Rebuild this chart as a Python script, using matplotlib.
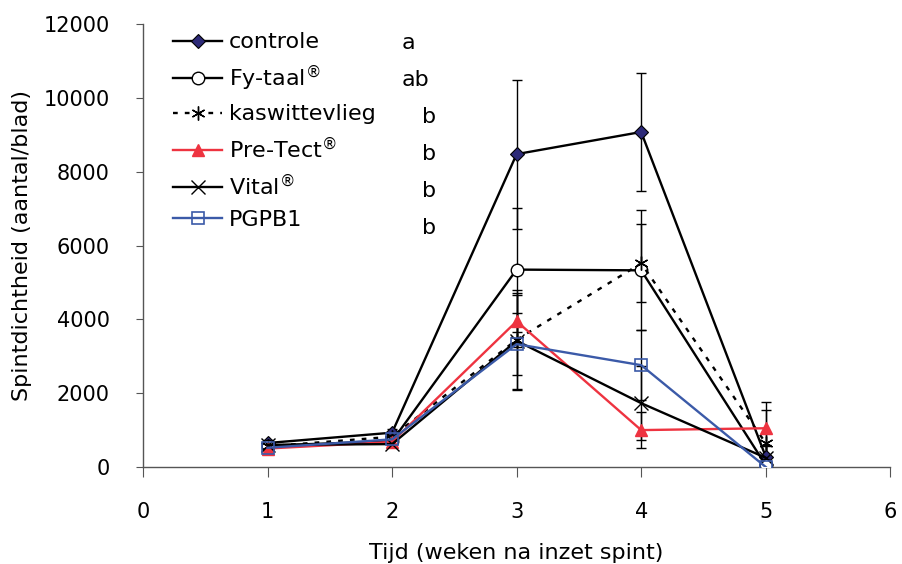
import numpy as np
import matplotlib.pyplot as plt

weeks = [1, 2, 3, 4, 5]
names = ['controle', 'Fy-taal$^{®}$', 'kaswittevlieg', 'Pre-Tect$^{®}$', 'Vital$^{®}$', 'PGPB1']
letters = ['a', 'ab', 'b', 'b', 'b', 'b']

controle = [650, 930, 8480, 9080, 280]
controle_err = [80, 100, 2020, 1600, 300]
fytaal = [580, 700, 5350, 5330, 50]
fytaal_err = [60, 80, 1680, 1630, 100]
kaswittevlieg = [560, 820, 3450, 5520, 650]
kaswittevlieg_err = [60, 80, 1350, 1060, 900]
pretect = [500, 680, 3950, 1000, 1050]
pretect_err = [50, 70, 700, 480, 720]
vital = [600, 620, 3420, 1730, 250]
vital_err = [60, 60, 1300, 1000, 350]
pgpb = [520, 750, 3330, 2760, 0]
pgpb_err = [50, 70, 850, 950, 100]

plt.rcParams['font.family'] = ['DejaVu Sans']
fig = plt.figure(figsize=(9.02, 5.64), dpi=100)
ax = fig.add_axes([0.1585, 0.172, 0.8285, 0.785])

series = [
    (controle, controle_err, dict(color='black', ls='-', marker='D', mfc='#2d2a78', mec='black', ms=7.5, mew=0.8)),
    (fytaal, fytaal_err, dict(color='black', ls='-', marker='o', mfc='white', mec='black', ms=9, mew=1)),
    (kaswittevlieg, kaswittevlieg_err, dict(color='black', ls=(0, (2, 3)), marker=(6, 2, 0), mec='black', ms=10, mew=1)),
    (pretect, pretect_err, dict(color='#ee3340', ls='-', marker='^', mfc='#ee3340', mec='#ee3340', ms=9)),
    (vital, vital_err, dict(color='black', ls='-', marker='x', mec='black', ms=10, mew=1)),
    (pgpb, pgpb_err, dict(color='#3b5aa8', ls='-', marker='s', mfc='none', mec='#3b5aa8', ms=9, mew=1.2)),
]

handles = []
for vals, err, st in series:
    ax.errorbar(weeks, vals, yerr=err, fmt='none', ecolor='black', elinewidth=1, capsize=3.5, capthick=1, zorder=2)
for (vals, err, st), name in zip(series, names):
    h, = ax.plot(weeks, vals, lw=1.7, label=name, zorder=3, **st)
    handles.append(h)

ax.set_xlim(0, 6)
ax.set_ylim(0, 12000)
ax.set_xticks(range(7))
ax.set_yticks(range(0, 12001, 2000))
ax.spines['top'].set_visible(False)
ax.spines['right'].set_visible(False)
for s in ['left', 'bottom']:
    ax.spines[s].set_color('#555555')
    ax.spines[s].set_linewidth(1)
ax.tick_params(axis='y', labelsize=15, direction='out', length=5, pad=19, color='#555555')
ax.tick_params(axis='x', labelsize=15, direction='out', length=7, pad=18, color='#555555')
ax.set_xlabel('Tijd (weken na inzet spint)', fontsize=16, labelpad=15)
ax.set_ylabel('Spintdichtheid (aantal/blad)', fontsize=16, labelpad=8)

leg = ax.legend(handles=handles, loc='upper left', bbox_to_anchor=(0.014, 1.027), frameon=False,
                fontsize=16, handlelength=2.2, labelspacing=0.5, handletextpad=0.3)
for i, l in enumerate(letters):
    ax.text(0.346 if l != 'b' else 0.373, 0.957 - i * 0.0835, l, transform=ax.transAxes,
            fontsize=16, ha='left', va='center')

fig.savefig('out.png', dpi=100)
